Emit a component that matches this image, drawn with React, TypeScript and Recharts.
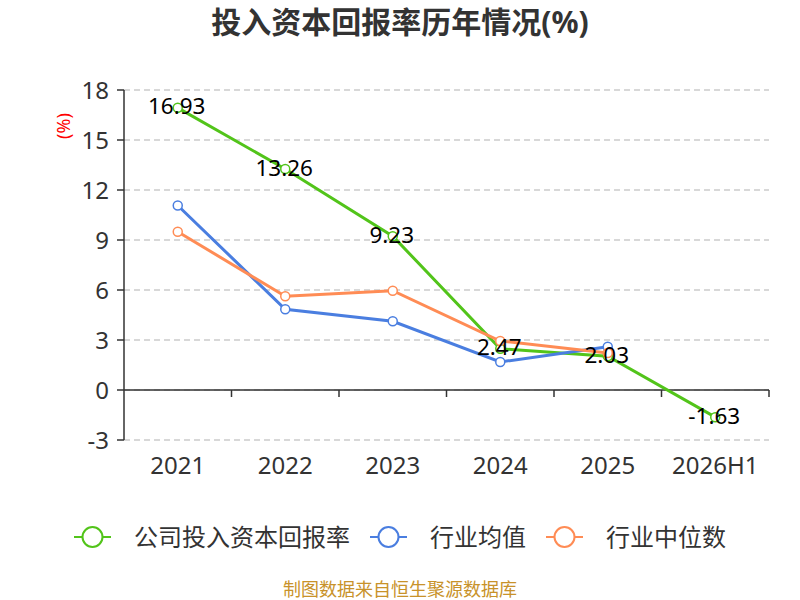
import React from "react";
import {
  LineChart,
  Line,
  XAxis,
  YAxis,
  CartesianGrid,
  ReferenceLine,
  LabelList,
} from "recharts";

const categories = ["2021", "2022", "2023", "2024", "2025", "2026H1"];
const companyValues: (number | null)[] = [16.93, 13.26, 9.23, 2.47, 2.03, -1.63];
const industryAvg: (number | null)[] = [11.07, 4.84, 4.12, 1.68, 2.6, null];
const industryMedian: (number | null)[] = [9.5, 5.62, 5.96, 2.94, 2.22, null];
const yTicks = [-3, 0, 3, 6, 9, 12, 15, 18];

const seriesNames = ["公司投入资本回报率", "行业均值", "行业中位数"];
const COLORS = ["#52c41a", "#4a7ee0", "#ff8c55"];

const data = categories.map((c, i) => ({
  name: c,
  company: companyValues[i],
  avg: industryAvg[i],
  median: industryMedian[i],
}));

const FONT = "'Noto Sans', 'Noto Sans CJK SC', sans-serif";

const ZeroAxis = (props: any) => {
  const { x1, y1, x2, y2 } = props;
  const n = categories.length;
  const step = (x2 - x1) / n;
  const ticks = [];
  for (let k = 1; k <= n; k++) {
    const x = x1 + k * step;
    ticks.push(<line key={k} x1={x} y1={y1} x2={x} y2={y1 + 7} stroke="#333" strokeWidth={1.5} />);
  }
  return (
    <g>
      <line x1={x1} y1={y1} x2={x2} y2={y2} stroke="#333" strokeWidth={1.5} />
      {ticks}
    </g>
  );
};

const renderLabel = (props: any) => {
  const { x, y, value } = props;
  if (value === null || value === undefined) return null;
  return (
    <text
      x={x}
      y={y}
      dx={-1}
      dy={-2}
      textAnchor="middle"
      dominantBaseline="central"
      fill="#000"
      fontSize={22.5}
      fontFamily={FONT}
    >
      {value}
    </text>
  );
};

const LegendItem = ({ color, label, last }: { color: string; label: string; last: boolean }) => (
  <div style={{ display: "flex", alignItems: "center", marginRight: last ? 0 : 20 }}>
    <svg width={37} height={24}>
      <line x1={0} y1={12} x2={37} y2={12} stroke={color} strokeWidth={2} />
      <circle cx={18.5} cy={12} r={10} fill="#fff" stroke={color} strokeWidth={2} />
    </svg>
    <span style={{ marginLeft: 23, fontSize: 24, lineHeight: "30px", color: "#333" }}>{label}</span>
  </div>
);

export default function App() {
  return (
    <div
      style={{
        position: "absolute",
        left: 0,
        top: 0,
        width: 800,
        height: 600,
        background: "#fff",
        fontFamily: FONT,
        overflow: "hidden",
      }}
    >
      <div
        style={{
          position: "absolute",
          top: 2,
          left: 0,
          width: 800,
          textAlign: "center",
          fontSize: 30,
          lineHeight: "40px",
          fontWeight: "bold",
          color: "#333",
        }}
      >
        投入资本回报率历年情况(%)
      </div>
      <div
        style={{
          position: "absolute",
          left: 48,
          top: 111,
          width: 30,
          height: 30,
          display: "flex",
          alignItems: "center",
          justifyContent: "center",
          transform: "rotate(-90deg)",
          color: "#ff0000",
          fontSize: 18,
          lineHeight: "30px",
        }}
      >
        (%)
      </div>
      <div style={{ position: "absolute", left: 0, top: 0 }}>
        <LineChart
          width={800}
          height={500}
          data={data}
          margin={{ top: 90, right: 31, left: 64, bottom: 0 }}
        >
          <CartesianGrid vertical={false} stroke="#cccccc" strokeDasharray="6 4" strokeWidth={1.5} />
          <XAxis
            dataKey="name"
            scale="band"
            axisLine={false}
            tickLine={false}
            height={60}
            tick={{ fill: "#333", fontSize: 24, fontFamily: FONT }}
            tickMargin={11}
            interval={0}
          />
          <YAxis
            domain={[-3, 18]}
            ticks={yTicks}
            width={60}
            axisLine={{ stroke: "#333", strokeWidth: 1.5 }}
            tickLine={{ stroke: "#333", strokeWidth: 1.5 }}
            tickSize={7}
            tickMargin={8}
            tick={{ fill: "#333", fontSize: 24, fontFamily: FONT }}
            interval={0}
          />
          <ReferenceLine y={0} shape={ZeroAxis} />
          <Line
            dataKey="company"
            name={seriesNames[0]}
            stroke={COLORS[0]}
            strokeWidth={3}
            dot={{ r: 4.5, fill: "#fff", stroke: COLORS[0], strokeWidth: 1.5 }}
            isAnimationActive={false}
          >
            <LabelList dataKey="company" content={renderLabel} />
          </Line>
          <Line
            dataKey="avg"
            name={seriesNames[1]}
            stroke={COLORS[1]}
            strokeWidth={3}
            dot={{ r: 4.5, fill: "#fff", stroke: COLORS[1], strokeWidth: 1.5 }}
            isAnimationActive={false}
          />
          <Line
            dataKey="median"
            name={seriesNames[2]}
            stroke={COLORS[2]}
            strokeWidth={3}
            dot={{ r: 4.5, fill: "#fff", stroke: COLORS[2], strokeWidth: 1.5 }}
            isAnimationActive={false}
          />
        </LineChart>
      </div>
      <div
        style={{
          position: "absolute",
          top: 522,
          left: 0,
          width: 800,
          display: "flex",
          justifyContent: "center",
        }}
      >
        {seriesNames.map((n, i) => (
          <LegendItem key={n} color={COLORS[i]} label={n} last={i === seriesNames.length - 1} />
        ))}
      </div>
      <div
        style={{
          position: "absolute",
          top: 578,
          left: 0,
          width: 800,
          textAlign: "center",
          fontSize: 18,
          lineHeight: "22px",
          color: "#c8922a",
        }}
      >
        制图数据来自恒生聚源数据库
      </div>
    </div>
  );
}
